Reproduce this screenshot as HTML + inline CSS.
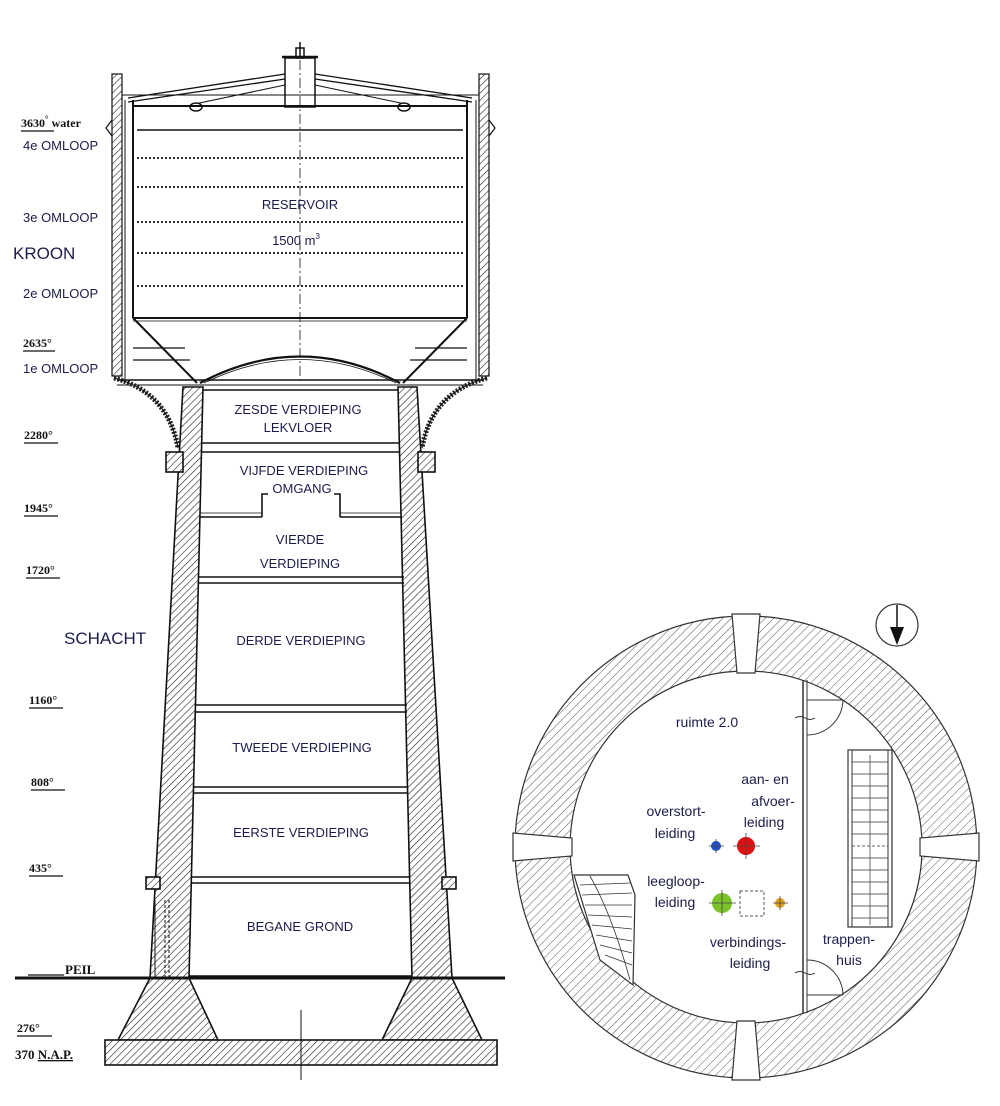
<!DOCTYPE html>
<html><head><meta charset="utf-8"><style>
html,body{margin:0;padding:0;background:#fff;}
svg{display:block;}
.l{font-family:"Liberation Sans",sans-serif;fill:#1c1c4a;}
.s{font-family:"Liberation Serif",serif;font-weight:bold;fill:#111;font-size:12px;}
</style></head><body>
<svg width="1000" height="1106" viewBox="0 0 1000 1106" xmlns="http://www.w3.org/2000/svg">
<defs>
<pattern id="h" width="5" height="5" patternUnits="userSpaceOnUse" patternTransform="rotate(45)">
<rect width="5" height="5" fill="#fff"/><line x1="0" y1="0" x2="0" y2="5" stroke="#222" stroke-width="1.2"/></pattern>
<pattern id="h2" width="6" height="6" patternUnits="userSpaceOnUse" patternTransform="rotate(45)">
<rect width="6" height="6" fill="#fff"/><line x1="0" y1="0" x2="0" y2="6" stroke="#555" stroke-width="1"/></pattern>
</defs>

<g stroke="#111" fill="none" stroke-width="1.5">
<line x1="300" y1="42" x2="300" y2="58"/>
<rect x="296" y="48" width="8" height="10"/>
<line x1="282" y1="57" x2="318" y2="57" stroke-width="2.5"/>
<rect x="285" y="58" width="30" height="49"/>
<line x1="300" y1="60" x2="300" y2="380" stroke-dasharray="10,3,2,3" stroke-width="0.8"/>
<path d="M128 98 L285 74 M128 102 L285 79 M315 74 L472 98 M315 79 L472 102" stroke-width="1.3"/>
<path d="M190 105 L285 85 M410 105 L315 85" stroke-width="1"/>
<ellipse cx="196" cy="107" rx="6" ry="4" fill="#fff"/>
<ellipse cx="404" cy="107" rx="6" ry="4" fill="#fff"/>
<line x1="117" y1="95" x2="483" y2="95" stroke-width="1"/>
<line x1="133" y1="106" x2="467" y2="106" stroke-width="2"/>
<line x1="133" y1="100" x2="133" y2="318" stroke-width="2"/>
<line x1="467" y1="100" x2="467" y2="318" stroke-width="2"/>
<line x1="137" y1="130" x2="463" y2="130"/>
<g stroke-dasharray="2,2" stroke-width="1.8">
<line x1="137" y1="158" x2="463" y2="158"/>
<line x1="137" y1="187" x2="463" y2="187"/>
<line x1="137" y1="222" x2="463" y2="222"/>
<line x1="137" y1="253" x2="463" y2="253"/>
<line x1="137" y1="286" x2="463" y2="286"/>
</g>
<line x1="133" y1="318" x2="467" y2="318" stroke-width="2"/>
<line x1="133" y1="321" x2="467" y2="321" stroke-width="0.8"/>
<path d="M133 318 L197 383 M467 318 L403 383" stroke-width="2"/>
<path d="M200 383 Q300 330 400 383" stroke-width="2.2"/>
<path d="M204 383 Q300 336 396 383" stroke-width="0.8"/>
<rect x="112" y="74" width="10" height="302" fill="url(#h)" stroke-width="1.2"/>
<rect x="479" y="74" width="10" height="302" fill="url(#h)" stroke-width="1.2"/>
<line x1="125" y1="100" x2="125" y2="380" stroke-width="1"/>
<line x1="476" y1="100" x2="476" y2="380" stroke-width="1"/>
<path d="M112 120 l-6 8 l6 8 M489 120 l6 8 l-6 8" stroke-width="1.2"/>
<path d="M133 348 L185 348 M133 360 L190 360 M415 348 L467 348 M410 360 L467 360" stroke-width="1.2"/>
<line x1="117" y1="380" x2="483" y2="380" stroke-width="1.5"/>
<line x1="117" y1="385" x2="483" y2="385" stroke-width="1"/>
<path d="M114 378 Q168 392 178 448" stroke-width="5" stroke="#222" stroke-dasharray="2,1.5"/>
<path d="M114 378 Q168 392 178 448" stroke-width="1"/>
<path d="M487 378 Q432 392 422 448" stroke-width="5" stroke="#222" stroke-dasharray="2,1.5"/>
<path d="M487 378 Q432 392 422 448" stroke-width="1"/>
</g>

<g stroke="#111" stroke-width="1.6">
<polygon points="183,387 203,387 189,978 150,978" fill="url(#h)"/>
<polygon points="398,387 417,387 452,978 412,978" fill="url(#h)"/>
<rect x="166" y="452" width="17" height="20" fill="url(#h)"/>
<rect x="418" y="452" width="17" height="20" fill="url(#h)"/>
<rect x="146" y="877" width="14" height="12" fill="url(#h)"/>
<rect x="442" y="877" width="14" height="12" fill="url(#h)"/>
<polygon points="150,978 189,978 218,1040 118,1040" fill="url(#h)"/>
<polygon points="412,978 452,978 482,1040 382,1040" fill="url(#h)"/>
<rect x="105" y="1040" width="392" height="25" fill="url(#h)"/>
</g>
<g stroke="#111" fill="none">
<line x1="15" y1="978" x2="505" y2="978" stroke-width="3"/>
<line x1="155" y1="900" x2="155" y2="978" stroke-width="1"/>
<line x1="165" y1="900" x2="165" y2="978" stroke-width="1" stroke-dasharray="3,2"/>
<line x1="169" y1="900" x2="169" y2="978" stroke-width="1" stroke-dasharray="3,2"/>
<g stroke-width="1.6">
<line x1="203" y1="390" x2="398" y2="390"/>
<line x1="202" y1="443" x2="400" y2="443"/>
<line x1="202" y1="452" x2="400" y2="452"/>
<line x1="200" y1="517" x2="262" y2="517"/><line x1="340" y1="517" x2="402" y2="517"/>
<line x1="200" y1="513" x2="262" y2="513" stroke-width="0.8"/><line x1="340" y1="513" x2="402" y2="513" stroke-width="0.8"/>
<path d="M262 517 L262 494 L268 494 M340 517 L340 494 L334 494"/>
<line x1="198" y1="577" x2="404" y2="577"/><line x1="198" y1="583" x2="404" y2="583"/>
<line x1="196" y1="705" x2="407" y2="705"/><line x1="196" y1="712" x2="407" y2="712"/>
<line x1="194" y1="787" x2="408" y2="787"/><line x1="194" y1="793" x2="408" y2="793"/>
<line x1="192" y1="877" x2="410" y2="877"/><line x1="192" y1="883" x2="410" y2="883"/>
<line x1="189" y1="976" x2="412" y2="976"/>
</g>
<line x1="301" y1="1010" x2="301" y2="1080" stroke-width="1"/>
</g>

<g class="l" text-anchor="middle" font-size="13">
<text x="300" y="209">RESERVOIR</text>
<text x="296" y="245">1500 m<tspan font-size="8" dy="-6">3</tspan></text>
<text x="298" y="414">ZESDE VERDIEPING</text>
<text x="298" y="432">LEKVLOER</text>
<text x="304" y="475">VIJFDE VERDIEPING</text>
<text x="302" y="493">OMGANG</text>
<text x="300" y="544">VIERDE</text>
<text x="300" y="568">VERDIEPING</text>
<text x="301" y="645">DERDE VERDIEPING</text>
<text x="302" y="752">TWEEDE VERDIEPING</text>
<text x="301" y="837">EERSTE VERDIEPING</text>
<text x="300" y="931">BEGANE GROND</text>
</g>
<g class="l" font-size="13">
<text x="23" y="150">4e OMLOOP</text>
<text x="23" y="222">3e OMLOOP</text>
<text x="23" y="298">2e OMLOOP</text>
<text x="23" y="373">1e OMLOOP</text>
<text x="13" y="259" font-size="17">KROON</text>
<text x="64" y="644" font-size="17">SCHACHT</text>
</g>
<g class="s">
<text x="21" y="127">3630<tspan font-size="9" dy="-5">°</tspan><tspan dy="5"> water</tspan></text>
<text x="23" y="347">2635°</text>
<text x="24" y="439">2280°</text>
<text x="24" y="512">1945°</text>
<text x="26" y="574">1720°</text>
<text x="29" y="704">1160°</text>
<text x="31" y="786">808°</text>
<text x="29" y="872">435°</text>
<text x="65" y="974" font-size="13">PEIL</text>
<text x="17" y="1032">276°</text>
<text x="15" y="1059" font-size="13">370 <tspan text-decoration="underline">N.A.P.</tspan></text>
</g>
<g stroke="#111" stroke-width="1.2">
<line x1="28" y1="975" x2="64" y2="975"/><line x1="17" y1="1036" x2="52" y2="1036"/>
<line x1="21" y1="131" x2="54" y2="131"/><line x1="23" y1="351" x2="55" y2="351"/>
<line x1="24" y1="443" x2="58" y2="443"/><line x1="24" y1="516" x2="58" y2="516"/>
<line x1="26" y1="578" x2="60" y2="578"/><line x1="29" y1="708" x2="63" y2="708"/>
<line x1="31" y1="790" x2="65" y2="790"/><line x1="29" y1="876" x2="63" y2="876"/>
</g>

<g stroke="#333" stroke-width="1.2">
<path d="M746 616 A231 231 0 1 1 745.9 616 Z M746 671 A176 176 0 1 0 746.1 671 Z" fill="url(#h2)" fill-rule="evenodd"/>
</g>
<g fill="#fff" stroke="#333" stroke-width="1.2">
<polygon points="732,614 760,614 755,673 737,673"/>
<polygon points="732,1080 760,1080 755,1021 737,1021"/>
<polygon points="513,833 513,861 572,856 572,838"/>
<polygon points="979,833 979,861 920,856 920,838"/>
</g>
<g stroke="#333" fill="none">
<line x1="803" y1="680" x2="803" y2="1013" stroke-width="1.5"/>
<line x1="807" y1="680" x2="807" y2="1013" stroke-width="1"/>
<path d="M807 700 L843 700 M843 700 A36 36 0 0 1 807 735" stroke-width="1"/>
<path d="M807 995 L843 995 M843 995 A36 36 0 0 0 807 960" stroke-width="1"/>
<path d="M795 718 q5 -3 10 0 q5 3 10 0 M795 973 q5 -3 10 0 q5 3 10 0" stroke-width="1"/>
<rect x="848" y="750" width="44" height="177" stroke-width="1.2"/>
<line x1="852" y1="750" x2="852" y2="927"/><line x1="888" y1="750" x2="888" y2="927"/>
<line x1="870" y1="755" x2="870" y2="925" stroke-width="0.7"/>
<g stroke-width="0.8">
<line x1="852" y1="762" x2="888" y2="762"/><line x1="852" y1="774" x2="888" y2="774"/><line x1="852" y1="786" x2="888" y2="786"/><line x1="852" y1="798" x2="888" y2="798"/><line x1="852" y1="810" x2="888" y2="810"/><line x1="852" y1="822" x2="888" y2="822"/><line x1="852" y1="834" x2="888" y2="834"/><line x1="852" y1="846" x2="888" y2="846" stroke-dasharray="3,2"/><line x1="852" y1="858" x2="888" y2="858"/><line x1="852" y1="870" x2="888" y2="870"/><line x1="852" y1="882" x2="888" y2="882"/><line x1="852" y1="894" x2="888" y2="894"/><line x1="852" y1="906" x2="888" y2="906"/><line x1="852" y1="918" x2="888" y2="918"/>
</g>
<path d="M574 875 L628 875 L635 895 L633 985 L600 960 Z" fill="#fff" stroke-width="1.2"/>
<g stroke-width="0.8">
<line x1="580" y1="885" x2="630" y2="883"/><line x1="582" y1="895" x2="632" y2="893"/><line x1="585" y1="905" x2="632" y2="905"/><line x1="588" y1="915" x2="632" y2="917"/><line x1="592" y1="925" x2="632" y2="929"/><line x1="596" y1="935" x2="632" y2="941"/><line x1="600" y1="945" x2="632" y2="953"/><line x1="605" y1="955" x2="632" y2="965"/>
<path d="M590 876 Q612 915 630 980"/>
</g>
</g>
<circle cx="897" cy="625" r="21" fill="#fff" stroke="#333" stroke-width="1.2"/>
<line x1="897" y1="605" x2="897" y2="630" stroke="#111" stroke-width="1.5"/>
<polygon points="890,627 904,627 897,645" fill="#111"/>
<circle cx="716" cy="846" r="5" fill="#1f4fd0"/>
<circle cx="746" cy="846" r="9" fill="#e01010"/>
<circle cx="722" cy="903" r="10" fill="#7cc22a"/>
<circle cx="780" cy="903" r="5" fill="#e0a020"/>
<rect x="740" y="891" width="24" height="25" fill="none" stroke="#555" stroke-dasharray="3,2"/>
<g stroke="#444" stroke-width="0.8">
<line x1="709" y1="846" x2="724" y2="846"/><line x1="716" y1="839" x2="716" y2="853"/>
<line x1="733" y1="846" x2="760" y2="846"/><line x1="746" y1="833" x2="746" y2="859"/>
<line x1="709" y1="903" x2="736" y2="903"/><line x1="722" y1="890" x2="722" y2="916"/>
<line x1="773" y1="903" x2="788" y2="903"/><line x1="780" y1="896" x2="780" y2="910"/>
</g>
<g class="l" font-size="14" text-anchor="middle">
<text x="707" y="727">ruimte 2.0</text>
<text x="765" y="784">aan- en</text>
<text x="773" y="806">afvoer-</text>
<text x="764" y="827">leiding</text>
<text x="676" y="816">overstort-</text>
<text x="675" y="838">leiding</text>
<text x="676" y="886">leegloop-</text>
<text x="675" y="907">leiding</text>
<text x="748" y="947">verbindings-</text>
<text x="750" y="968">leiding</text>
<text x="849" y="944">trappen-</text>
<text x="849" y="965">huis</text>
</g>
</svg>
</body></html>
